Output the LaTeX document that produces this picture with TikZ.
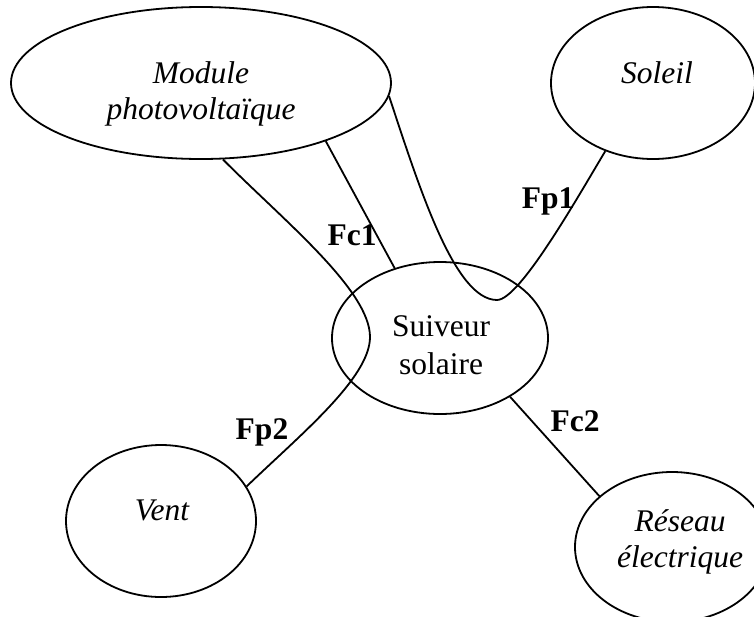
\documentclass[tikz,border=0pt]{standalone}
\usepackage{fontspec}
\setmainfont{Liberation Serif}
\usetikzlibrary{shapes.geometric}
\begin{document}
\begin{tikzpicture}[x=0.5pt,y=-0.5pt,
  ell/.style={draw,ellipse,line width=0.9pt,inner sep=0pt},
  lbl/.style={font=\fontsize{15.75}{18}\selectfont\bfseries,inner sep=0pt},
  itx/.style={font=\fontsize{15.75}{18}\selectfont\itshape,inner sep=0pt,align=center},
  rtx/.style={font=\fontsize{15.75}{19}\selectfont,inner sep=0pt,align=center},
  conn/.style={line width=0.9pt}]
\useasboundingbox (0,0) rectangle (754,616);
% ellipses
\node[ell,minimum width=190pt,minimum height=76pt] (mod) at (201,83) {};
\node[ell,minimum width=102pt,minimum height=76pt] (sol) at (653,83) {};
\node[ell,minimum width=108pt,minimum height=76pt] (sui) at (440,338) {};
\node[ell,minimum width=95pt,minimum height=76pt] (ven) at (161,521) {};
\node[ell,minimum width=97pt,minimum height=75pt] (res) at (672,547) {};
% texts
\node[itx] (modt) at (201,94) {Module\\photovoltaïque};
\node[itx,anchor=base] (solt) at (657,83) {Soleil};
\node[rtx] (suit) at (441,345) {Suiveur\\solaire};
\node[itx,anchor=base] (vent) at (162,520) {Vent};
\node[itx,font=\fontsize{15.75}{17.75}\selectfont\itshape] (rest) at (680,542) {Réseau\\électrique};
% connectors
\coordinate (fp2mid) at (370,337);
\coordinate (fp1mid) at (497,300);
\draw[conn] (mod.-74) .. controls (283,220) and (370,290) .. (fp2mid)
            .. controls (370,378) and (300,435) .. (ven.22.7);
\draw[conn] (mod.-4.5) .. controls (420,190) and (455,300) .. (fp1mid)
            .. controls (520,300) and (580,193) .. (sol.235.6);
\draw[conn] (mod.-25.3) -- (sui.123.7);
\draw[conn] (sui.-40.6) -- (res.145.4);
% labels
\node[lbl] (fc1) at (352,235) {Fc1};
\node[lbl] (fp1) at (548,201) {Fp1};
\node[lbl] (fp2) at (262,432) {Fp2};
\node[lbl] (fc2) at (575,421) {Fc2};
\end{tikzpicture}
\end{document}
